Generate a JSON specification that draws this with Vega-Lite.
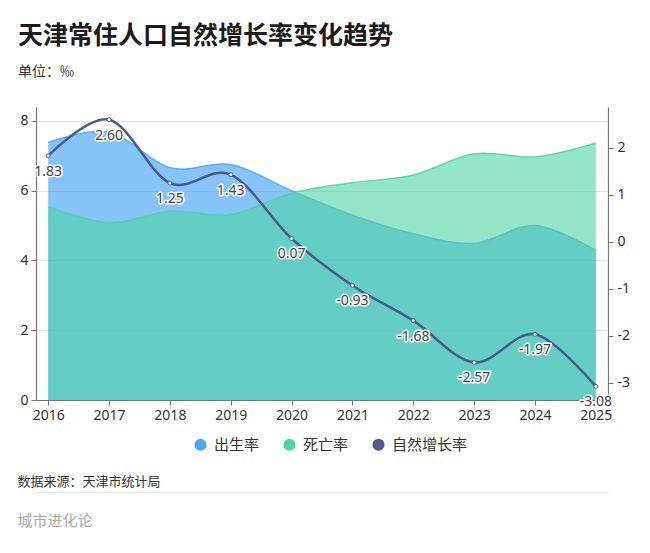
{
  "$schema": "https://vega.github.io/schema/vega-lite/v6.json",
  "width": 572,
  "height": 293,
  "autosize": {"type": "none"},
  "padding": {"left": 36, "top": 107, "right": 42, "bottom": 153},
  "background": "white",
  "title": {
    "text": "天津常住人口自然增长率变化趋势",
    "subtitle": "单位：‰",
    "anchor": "start",
    "frame": "group",
    "dx": -18,
    "offset": 28,
    "fontSize": 25,
    "fontWeight": "bold",
    "color": "#1a1a1a",
    "subtitleFontSize": 14,
    "subtitleColor": "#333333",
    "subtitlePadding": 16
  },
  "data": {
    "values": [
      {"year": 2016, "birth": 7.38, "death": 5.55, "growth": 1.83},
      {"year": 2017, "birth": 7.68, "death": 5.08, "growth": 2.60},
      {"year": 2018, "birth": 6.66, "death": 5.41, "growth": 1.25},
      {"year": 2019, "birth": 6.75, "death": 5.32, "growth": 1.43},
      {"year": 2020, "birth": 6.00, "death": 5.93, "growth": 0.07},
      {"year": 2021, "birth": 5.30, "death": 6.23, "growth": -0.93},
      {"year": 2022, "birth": 4.77, "death": 6.45, "growth": -1.68},
      {"year": 2023, "birth": 4.49, "death": 7.06, "growth": -2.57},
      {"year": 2024, "birth": 5.00, "death": 6.97, "growth": -1.97},
      {"year": 2025, "birth": 4.29, "death": 7.37, "growth": -3.08}
    ]
  },
  "layer": [
    {
      "encoding": {
        "x": {
          "field": "year",
          "type": "quantitative",
          "scale": {"domain": [2015.8, 2025.2], "nice": false, "zero": false},
          "axis": {
            "values": [2016, 2017, 2018, 2019, 2020, 2021, 2022, 2023, 2024, 2025],
            "format": "d",
            "grid": false,
            "tickSize": 5,
            "domainColor": "#777777",
            "tickColor": "#777777",
            "domainWidth": 1.2,
            "labelFont": "Noto Sans",
            "labelFontSize": 14,
            "labelColor": "#333333",
            "labelPadding": 3,
            "title": "数据来源：天津市统计局",
            "titleX": -19,
            "titleY": 81,
            "titleAlign": "left",
            "titleBaseline": "middle",
            "titleAngle": 0,
            "titleFontSize": 13,
            "titleFontWeight": "normal",
            "titleColor": "#333333"
          }
        }
      },
      "layer": [
        {
          "mark": {"type": "area", "interpolate": "cardinal", "opacity": 0.68, "line": {"strokeWidth": 1.5, "opacity": 0.85}},
          "encoding": {
            "y": {
              "field": "birth",
              "type": "quantitative",
              "scale": {"domain": [0, 8.4], "nice": false, "zero": false},
              "axis": {"orient": "left", "values": [0, 2, 4, 6, 8], "title": null, "grid": true, "gridColor": "#e3e3e3", "tickSize": 5, "labelPadding": 3, "domainColor": "#777777", "tickColor": "#777777", "domainWidth": 1.2, "labelFont": "Noto Sans", "labelFontSize": 14, "labelColor": "#333333"}
            },
            "color": {
              "datum": "出生率",
              "type": "nominal",
              "scale": {"domain": ["出生率", "死亡率", "自然增长率"], "range": ["#4da6f2", "#4fd3a3", "#4a5b8c"]},
              "legend": {
                "orient": "none",
                "legendX": 157,
                "legendY": 330,
                "direction": "horizontal",
                "title": null,
                "symbolType": "circle",
                "symbolSize": 144,
                "symbolStrokeWidth": 0,
                "symbolOpacity": 1,
                "labelFontSize": 15,
                "labelColor": "#333333",
                "labelOffset": 6,
                "columnPadding": 22,
                "encode": {"symbols": {"update": {"opacity": {"value": 1}, "fillOpacity": {"value": 1}}}}
              }
            }
          }
        },
        {
          "mark": {"type": "area", "interpolate": "cardinal", "opacity": 0.6, "line": {"strokeWidth": 1.5, "opacity": 0.85}},
          "encoding": {
            "y": {
              "field": "death",
              "type": "quantitative",
              "scale": {"domain": [0, 8.4], "nice": false, "zero": false},
              "axis": {"orient": "left", "values": [0, 2, 4, 6, 8], "title": null, "grid": true, "gridColor": "#e3e3e3", "tickSize": 5, "labelPadding": 3, "domainColor": "#777777", "tickColor": "#777777", "domainWidth": 1.2, "labelFont": "Noto Sans", "labelFontSize": 14, "labelColor": "#333333"}
            },
            "color": {"datum": "死亡率", "type": "nominal"}
          }
        }
      ]
    },
    {
      "encoding": {
        "x": {
          "field": "year",
          "type": "quantitative",
          "scale": {"domain": [2015.8, 2025.2], "nice": false, "zero": false},
          "axis": {
            "orient": "bottom",
            "offset": 92,
            "domain": true,
            "domainColor": "#e2e2e2",
            "domainWidth": 1,
            "labels": false,
            "ticks": false,
            "grid": false,
            "title": null
          }
        },
        "y": {
          "field": "growth",
          "type": "quantitative",
          "scale": {"domain": [-3.37, 2.87], "nice": false, "zero": false},
          "axis": {
            "orient": "right",
            "values": [-3, -2, -1, 0, 1, 2],
            "grid": false,
            "tickSize": 5,
            "labelPadding": 4,
            "domainColor": "#777777",
            "tickColor": "#777777",
            "domainWidth": 1.2,
            "labelFont": "Noto Sans",
            "labelFontSize": 14,
            "labelColor": "#333333",
            "title": "城市进化论",
            "titleX": -591,
            "titleY": 413,
            "titleAngle": 0,
            "titleAlign": "left",
            "titleBaseline": "middle",
            "titleFontSize": 15,
            "titleFontWeight": "normal",
            "titleColor": "#aaaaaa"
          }
        }
      },
      "layer": [
        {"mark": {"type": "line", "interpolate": "cardinal", "stroke": "#4a5b8c", "strokeWidth": 2.5}},
        {"mark": {"type": "point", "filled": true, "fill": "white", "stroke": "#4a5b8c", "strokeWidth": 1, "size": 16, "opacity": 1}},
        {
          "mark": {"type": "text", "dy": 16, "font": "Noto Sans", "fontSize": 14, "stroke": "white", "strokeWidth": 3, "strokeJoin": "round", "fill": "white"},
          "encoding": {"text": {"field": "growth", "type": "quantitative", "format": ".2f"}}
        },
        {
          "mark": {"type": "text", "dy": 16, "font": "Noto Sans", "fontSize": 14, "fill": "#444444"},
          "encoding": {"text": {"field": "growth", "type": "quantitative", "format": ".2f"}}
        }
      ]
    }
  ],
  "resolve": {"scale": {"x": "independent", "y": "independent"}, "axis": {"x": "independent", "y": "independent"}},
  "config": {
    "font": "Noto Sans CJK SC",
    "view": {"stroke": null},
    "locale": {"number": {"decimal": ".", "thousands": ",", "grouping": [3], "currency": ["", ""], "minus": "-"}}
  }
}
